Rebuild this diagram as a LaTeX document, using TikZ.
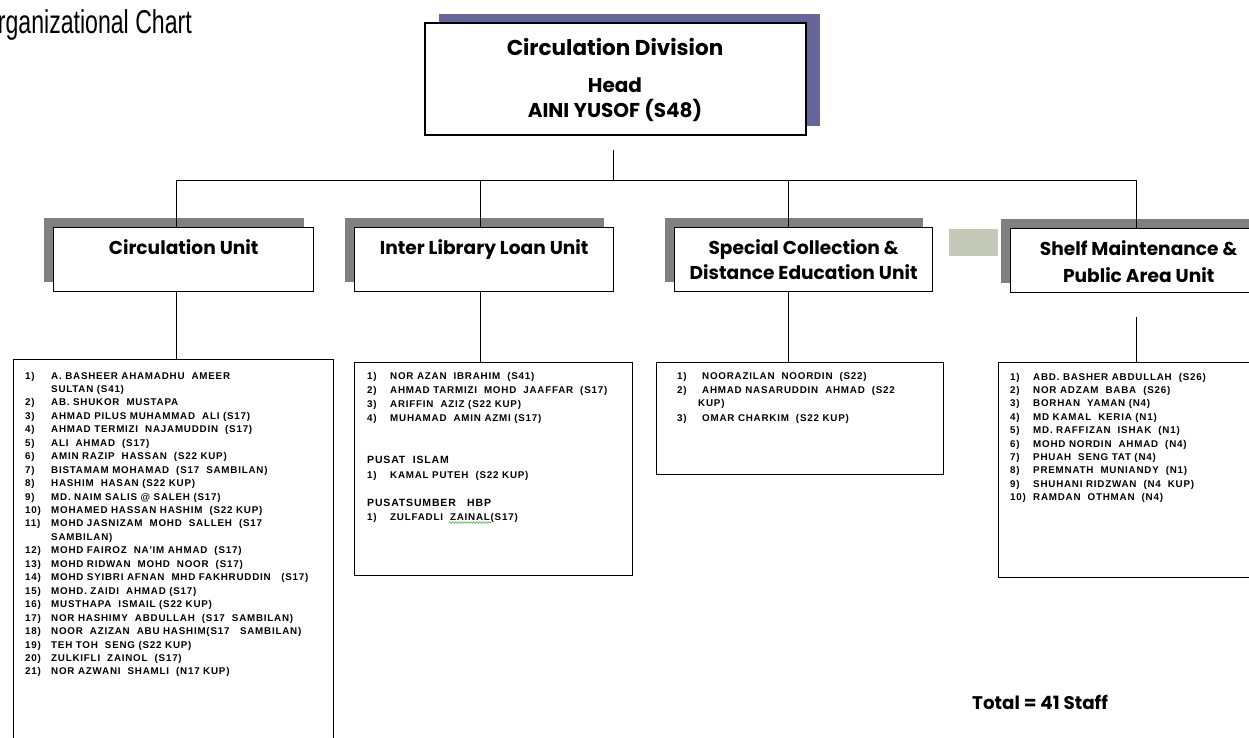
\documentclass[tikz,border=0pt]{standalone}
\usepackage{fontspec}
\setmainfont{Liberation Sans}
\newfontfamily\headfont{Poppins}
\newfontfamily\listfont[LetterSpace=8]{Liberation Sans}
\newfontfamily\titlefont{Liberation Sans}
\usetikzlibrary{shadows,decorations.pathmorphing}
\definecolor{purpshadow}{RGB}{102,102,153}
\definecolor{grayshadow}{RGB}{128,128,128}
\definecolor{sagebox}{RGB}{196,201,184}
\definecolor{squiggle}{RGB}{60,170,60}
\begin{document}
\begin{tikzpicture}[x=1pt,y=-1pt,
  topbox/.style={draw=black, line width=2pt, fill=white, inner sep=0pt,
    minimum width=381pt, minimum height=112pt, anchor=north west,
    drop shadow={shadow xshift=14pt, shadow yshift=9pt, fill=purpshadow, opacity=1}},
  unitbox/.style={draw=black, line width=1.3pt, fill=white, inner sep=0pt,
    minimum height=64pt, anchor=north west,
    drop shadow={shadow xshift=-10pt, shadow yshift=10pt, fill=grayshadow, opacity=1}},
  listbox/.style={draw=black, line width=0.9pt, inner sep=0pt, anchor=north west},
  conn/.style={draw=black, line width=1pt},
  toptxt/.style={anchor=base, inner sep=0pt, font=\headfont\bfseries\fontsize{21.5}{24}\selectfont},
  headtxt/.style={anchor=base, inner sep=0pt, font=\headfont\bfseries\fontsize{20}{23}\selectfont},
  unittxt/.style={anchor=base, inner sep=0pt, font=\headfont\bfseries\fontsize{18.6}{21}\selectfont},
  lt/.style={anchor=base west, inner sep=0pt, font=\listfont\bfseries\fontsize{9.8}{10}\selectfont},
  lh/.style={anchor=base west, inner sep=0pt, font=\listfont\bfseries\fontsize{10.5}{11}\selectfont}
]
\useasboundingbox (0,0) rectangle (1249,737);
\clip (0,0) rectangle (1249,737);

% title
\node[anchor=base east, inner sep=0pt] (title) at (192,33)
  {\titlefont\fontsize{33}{36}\selectfont\scalebox{0.7}[1]{Organizational Chart}};

% top box
\node[topbox] (top) at (424,22) {};
\node[toptxt] (topa) at (615,55) {Circulation Division};
\node[headtxt] (topb) at (615,92) {Head};
\node[headtxt] (topc) at (615,117) {AINI YUSOF (S48)};

% unit boxes
\node[unitbox, minimum width=260pt] (cu) at (53,227) {};
\node[unitbox, minimum width=259pt] (iu) at (354,227) {};
\node[unitbox, minimum width=258pt] (su) at (674,227) {};
\fill[sagebox] (949,229) rectangle (998,256);
\node[unitbox, minimum width=256pt] (mu) at (1010,228) {};

\node[unittxt] (cut) at ([yshift=-27pt]cu.north) {Circulation Unit};
\node[unittxt] (iut) at ([yshift=-27pt]iu.north) {Inter Library Loan Unit};
\node[unittxt] (sut1) at ([yshift=-27pt]su.north) {Special Collection \&};
\node[unittxt] (sut2) at ([yshift=-52pt]su.north) {Distance Education Unit};
\node[unittxt] (mut1) at ([yshift=-27pt]mu.north) {Shelf Maintenance \&};
\node[unittxt] (mut2) at ([yshift=-54pt]mu.north) {Public Area Unit};

% list boxes
\node[listbox, minimum width=320pt, minimum height=420pt] (cl) at (13,359) {};
\node[listbox, minimum width=278pt, minimum height=213pt] (il) at (354,362) {};
\node[listbox, minimum width=287pt, minimum height=112pt] (sl) at (656,362) {};
\node[listbox, minimum width=280pt, minimum height=215pt] (ml) at (998,362) {};

% connectors
\coordinate (hl) at (176,180);
\coordinate (hb) at (480,180);
\coordinate (hm) at (613,180);
\coordinate (hc) at (788,180);
\coordinate (hr) at (1136,180);
\draw[conn] ([yshift=-14pt]hm |- top.south) -- (hm);
\draw[conn] (hl) -- (hr);
\draw[conn] (hl) -- (hl |- cu.north);
\draw[conn] (hb) -- (hb |- iu.north);
\draw[conn] (hc) -- (hc |- su.north);
\draw[conn] (hr) -- (hr |- mu.north);
\draw[conn] (hl |- cu.south) -- (hl |- cl.north);
\draw[conn] (hb |- iu.south) -- (hb |- il.north);
\draw[conn] (hc |- su.south) -- (hc |- sl.north);
\draw[conn] ([yshift=-24pt]hr |- mu.south) -- (hr |- ml.north);

% circulation list
\foreach \num/\txt [count=\k from 0] in {
  1)/A. BASHEER AHAMADHU\ \ AMEER,
  /SULTAN (S41),
  2)/AB. SHUKOR\ \ MUSTAPA,
  3)/AHMAD PILUS MUHAMMAD\ \ ALI (S17),
  4)/AHMAD TERMIZI\ \ NAJAMUDDIN\ \ (S17),
  5)/ALI\ \ AHMAD\ \ (S17),
  6)/AMIN RAZIP\ \ HASSAN\ \ (S22 KUP),
  7)/BISTAMAM MOHAMAD\ \ (S17\ \ SAMBILAN),
  8)/HASHIM\ \ HASAN (S22 KUP),
  9)/MD. NAIM SALIS @ SALEH (S17),
  10)/MOHAMED HASSAN HASHIM\ \ (S22 KUP),
  11)/MOHD JASNIZAM\ \ MOHD\ \ SALLEH\ \ (S17,
  /SAMBILAN),
  12)/MOHD FAIROZ\ \ NA'IM AHMAD\ \ (S17),
  13)/MOHD RIDWAN\ \ MOHD\ \ NOOR\ \ (S17),
  14)/MOHD SYIBRI AFNAN\ \ MHD FAKHRUDDIN\ \ \ (S17),
  15)/MOHD. ZAIDI\ \ AHMAD (S17),
  16)/MUSTHAPA\ \ ISMAIL (S22 KUP),
  17)/NOR HASHIMY\ \ ABDULLAH\ \ (S17\ \ SAMBILAN),
  18)/NOOR\ \ AZIZAN\ \ ABU HASHIM(S17\ \ \ SAMBILAN),
  19)/TEH TOH\ \ SENG (S22 KUP),
  20)/ZULKIFLI\ \ ZAINOL\ \ (S17),
  21)/NOR AZWANI\ \ SHAMLI\ \ (N17 KUP)}
{
  \node[lt] (cn\k) at (25,{379+13.45*\k}) {\num};
  \node[lt] (ct\k) at (51,{379+13.45*\k}) {\txt};
}

% inter library loan list
\node[lt] (in1) at (367,379) {1)};
\node[lt] (it1) at (390,379) {NOR AZAN\ \ IBRAHIM\ \ (S41)};
\node[lt] (in2) at (367,393) {2)};
\node[lt] (it2) at (390,393) {AHMAD TARMIZI\ \ MOHD\ \ JAAFFAR\ \ (S17)};
\node[lt] (in3) at (367,407) {3)};
\node[lt] (it3) at (390,407) {ARIFFIN\ \ AZIZ (S22 KUP)};
\node[lt] (in4) at (367,421) {4)};
\node[lt] (it4) at (390,421) {MUHAMAD\ \ AMIN AZMI (S17)};
\node[lh] (ih1) at (367,463) {PUSAT\ \ ISLAM};
\node[lt] (in5) at (367,478.5) {1)};
\node[lt] (it5) at (390,478.5) {KAMAL PUTEH\ \ (S22 KUP)};
\node[lh] (ih2) at (367,506) {PUSATSUMBER\ \ \ HBP};
\node[lt] (in6) at (367,520.5) {1)};
\node[lt] (it6) at (390,520.5) {ZULFADLI\ \ ZAINAL(S17)};
\draw[squiggle, line width=0.6pt, decorate,
  decoration={snake, amplitude=0.8pt, segment length=3pt}]
  ([xshift=59pt,yshift=-2pt]it6.base west) -- ([xshift=101pt,yshift=-2pt]it6.base west);

% special collection list
\node[lt] (sn1) at (677,379.5) {1)};
\node[lt] (st1) at (702,379.5) {NOORAZILAN\ \ NOORDIN\ \ (S22)};
\node[lt] (sn2) at (677,393.5) {2)};
\node[lt] (st2) at (702,393.5) {AHMAD NASARUDDIN\ \ AHMAD\ \ (S22};
\node[lt] (st2b) at (698,406.5) {KUP)};
\node[lt] (sn3) at (677,421.5) {3)};
\node[lt] (st3) at (702,421.5) {OMAR CHARKIM\ \ (S22 KUP)};

% shelf maintenance list
\foreach \num/\txt [count=\k from 0] in {
  1)/ABD. BASHER\ ABDULLAH\ \ (S26),
  2)/NOR ADZAM\ \ BABA\ \ (S26),
  3)/BORHAN\ \ YAMAN (N4),
  4)/MD KAMAL\ \ KERIA (N1),
  5)/MD. RAFFIZAN\ \ ISHAK\ \ (N1),
  6)/MOHD NORDIN\ \ AHMAD\ \ (N4),
  7)/PHUAH\ \ SENG TAT (N4),
  8)/PREMNATH\ \ MUNIANDY\ \ (N1),
  9)/SHUHANI RIDZWAN\ \ (N4\ \ KUP),
  10)/RAMDAN\ \ OTHMAN\ \ (N4)}
{
  \node[lt] (mn\k) at (1010,{380+13.4*\k}) {\num};
  \node[lt] (mt\k) at (1033,{380+13.4*\k}) {\txt};
}

% total
\node[anchor=base west, inner sep=0pt, font=\headfont\bfseries\fontsize{18.3}{20}\selectfont]
  (total) at (972,709) {Total = 41 Staff};
\end{tikzpicture}
\end{document}
